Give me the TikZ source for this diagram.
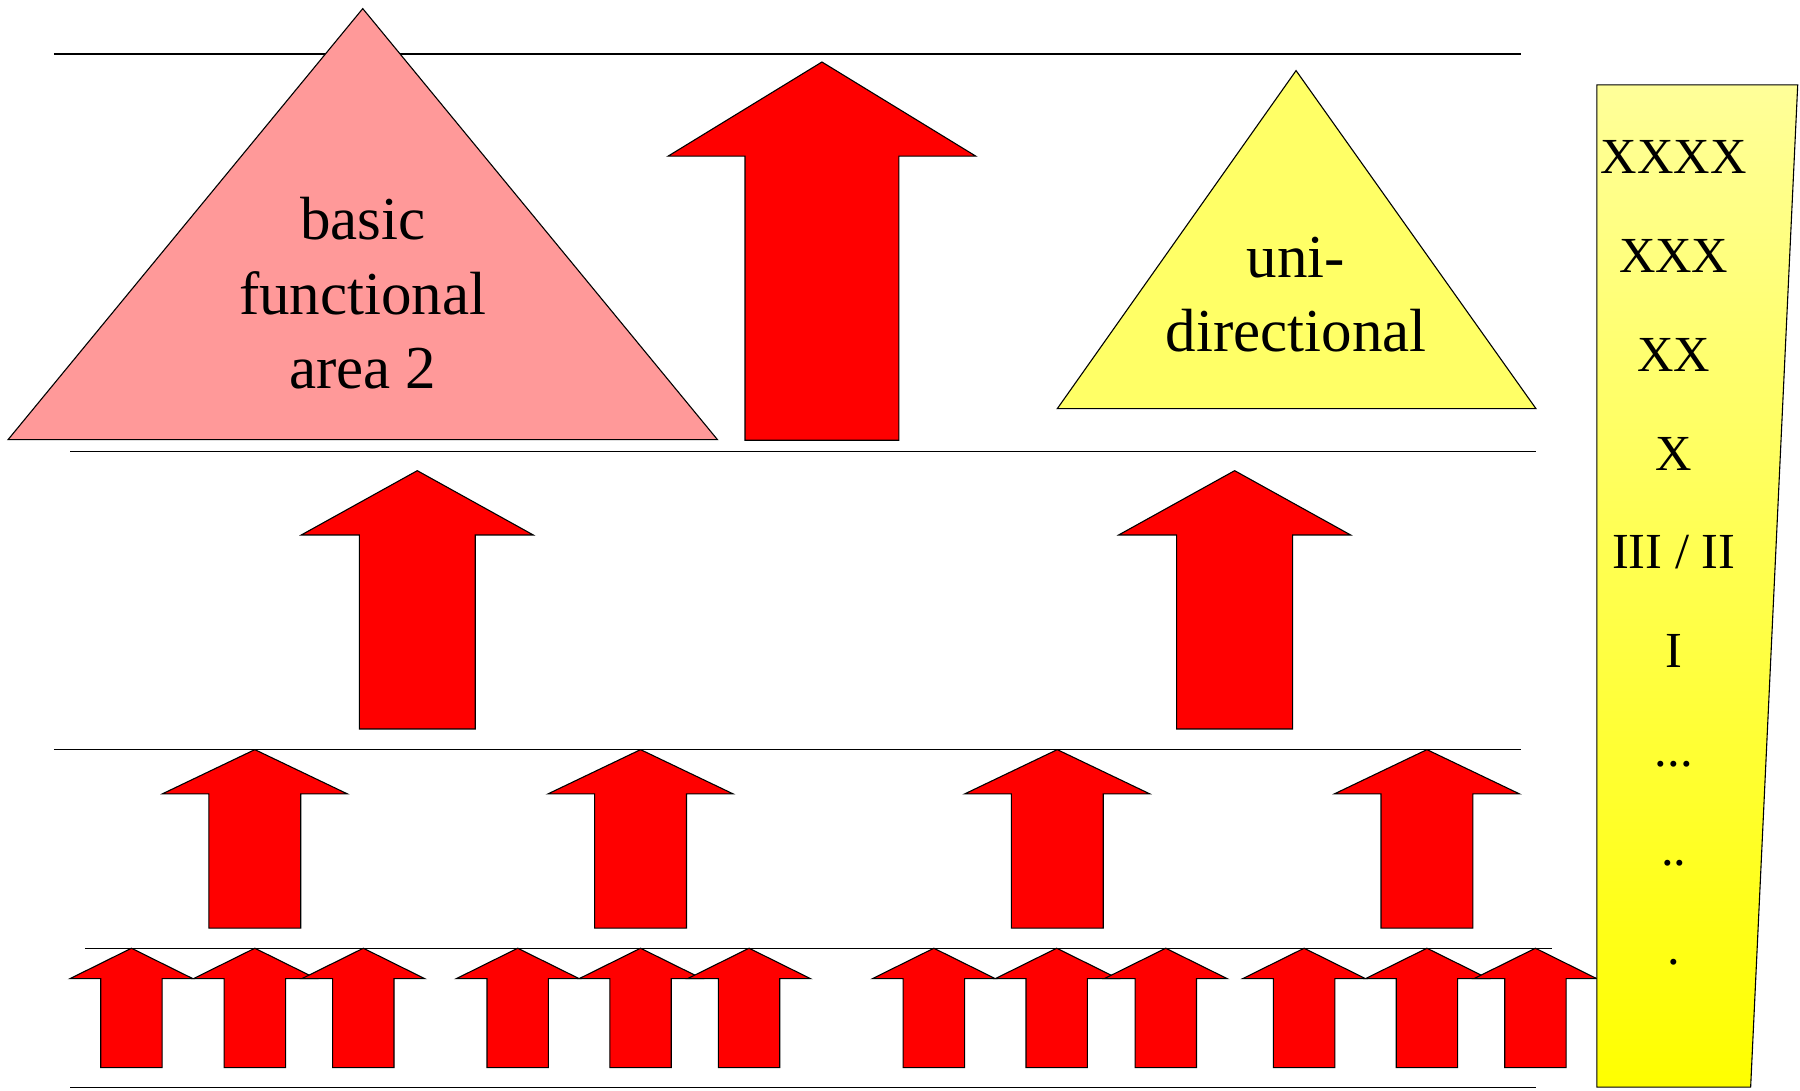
\documentclass[tikz,border=0pt]{standalone}
\usepackage{fontspec}
\setmainfont{Liberation Serif}
\definecolor{pinkfill}{HTML}{FF9999}
\definecolor{yellowtri}{HTML}{FFFF66}
\definecolor{coltop}{HTML}{FFFF99}
\definecolor{colbot}{HTML}{FFFF00}
\definecolor{arrred}{HTML}{FF0000}
\newcommand\uparr[6]{%
  \draw[redarrow] (#1,#2) -- ({#1+#5},#3) -- ({#1+#6},#3) -- ({#1+#6},#4)
    -- ({#1-#6},#4) -- ({#1-#6},#3) -- ({#1-#5},#3) -- cycle;}
\begin{document}
\begin{tikzpicture}[x=1.148pt,y=-1.148pt, line width=1.1pt,
  hline/.style={draw=black},
  redarrow/.style={draw=black, fill=arrred},
  tri/.style={draw=black},
  bigtext/.style={font=\fontsize{61}{73}\selectfont, anchor=base, inner sep=0pt},
  coltext/.style={font=\fontsize{50.5}{60}\selectfont, anchor=base, inner sep=0pt}]
\useasboundingbox (0,0) rectangle (1568,950);
% horizontal lines
\draw[hline] (47,47) -- (1325,47);
\draw[hline] (61,393) -- (1338,393);
\draw[hline] (47,653) -- (1325,653);
\draw[hline] (74,826) -- (1352,826);
\draw[hline] (61,947) -- (1338,947);
% triangles
\draw[tri, fill=pinkfill] (316,7.5) -- (625,383) -- (7,383) -- cycle;
\draw[tri, fill=yellowtri] (1129,61.5) -- (1338,356) -- (921,356) -- cycle;
\node[bigtext] (b1) at (316,209) {basic};
\node[bigtext] (b2) at (316,274) {functional};
\node[bigtext] (b3) at (316,338.5) {area 2};
\node[bigtext] (u1) at (1129,242) {uni-};
\node[bigtext] (u2) at (1129,306.5) {directional};
% big arrow
\uparr{716}{54}{136}{383.5}{134}{67}
% mid arrows
\uparr{363.5}{410}{466}{635}{101}{50.5}
\uparr{1075.5}{410}{466}{635}{101}{50.5}
% small arrows
\foreach \c in {222,558,921,1243}{\uparr{\c}{653}{691.5}{808.5}{80.5}{40}}
% tiny arrows
\foreach \c in {114.5,222,316.5,451,558,652.5,813.5,920.5,1015.5,1136,1243,1337.5}{\uparr{\c}{826}{852.5}{930}{53.5}{26.75}}
% column
\path[draw=black, top color=coltop, bottom color=colbot] (1391,74) -- (1566,74) -- (1525,947) -- (1391,947) -- cycle;
\node[coltext] (c1) at (1458,151.5) {XXXX};
\node[coltext] (c2) at (1458,237.5) {XXX};
\node[coltext] (c3) at (1458,323.5) {XX};
\node[coltext] (c4) at (1458,409.5) {X};
\node[coltext] (c5) at (1458,495.5) {III / II};
\node[coltext] (c6) at (1458,581.5) {I};
\node[coltext] (c7) at (1458,668) {...};
\node[coltext] (c8) at (1458,754) {..};
\node[coltext] (c9) at (1458,840) {.};
\end{tikzpicture}
\end{document}
